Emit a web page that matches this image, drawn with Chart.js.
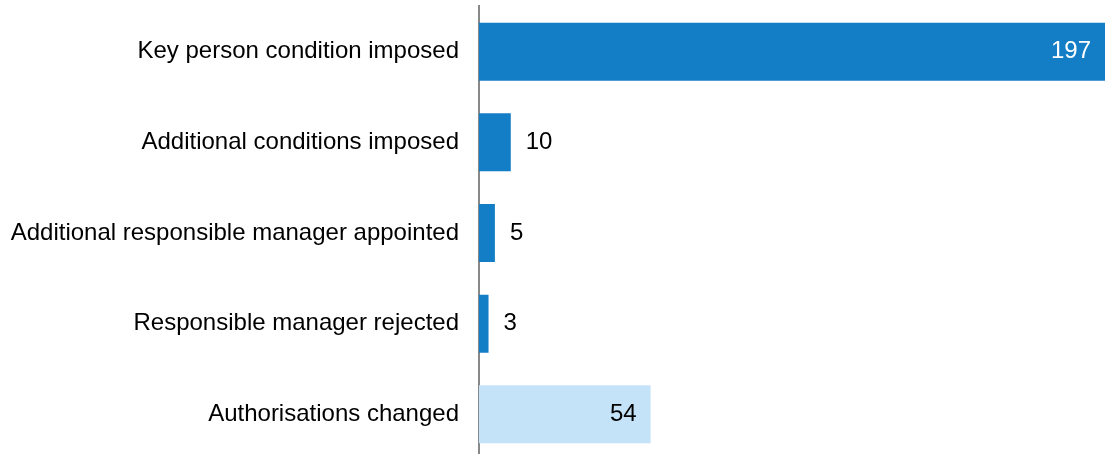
<!DOCTYPE html>
<html>
<head>
<meta charset="utf-8">
<script src="https://cdn.jsdelivr.net/npm/chart.js@4.4.1/dist/chart.umd.min.js"></script>
<style>
  html, body { margin: 0; padding: 0; background: #fff; overflow: hidden; }
  /* taller than the window and nudged up so the plot area runs to the bottom edge */
  #wrap { position: relative; top: -8px; width: 1106px; height: 482px; }
</style>
</head>
<body>
<div id="wrap"><canvas id="chart"></canvas></div>
<script>
const categories = [
    'Key person condition imposed',
    'Additional conditions imposed',
    'Additional responsible manager appointed',
    'Responsible manager rejected',
    'Authorisations changed'
];
const counts = [197, 10, 5, 3, 54];
const barColors = ['#137dc6', '#137dc6', '#137dc6', '#137dc6', '#c5e3f8'];

const FONT = 'Liberation Sans, Arial, sans-serif';

// values drawn at the end of each bar: inside for long bars, outside for short ones
const valueLabels = {
    id: 'valueLabels',
    afterDatasetsDraw(chart) {
        const ctx = chart.ctx;
        const meta = chart.getDatasetMeta(0);
        ctx.save();
        ctx.font = '24px ' + FONT;
        ctx.textBaseline = 'middle';
        meta.data.forEach((bar, i) => {
            const v = counts[i];
            const w = bar.x - bar.base;
            if (w > 100) {
                ctx.textAlign = 'right';
                ctx.fillStyle = i === 0 ? '#ffffff' : '#000000';
                ctx.fillText(v, bar.x - 14, bar.y);
            } else {
                ctx.textAlign = 'left';
                ctx.fillStyle = '#000000';
                ctx.fillText(v, bar.x + 15, bar.y);
            }
        });
        ctx.restore();
    }
};

new Chart(document.getElementById('chart'), {
    type: 'bar',
    data: {
        labels: categories,
        datasets: [{
            data: counts,
            backgroundColor: barColors,
            borderWidth: 0,
            barPercentage: 0.64,
            categoryPercentage: 1
        }]
    },
    options: {
        indexAxis: 'y',
        responsive: true,
        maintainAspectRatio: false,
        animation: false,
        layout: { padding: { top: 5, right: 1, bottom: 0, left: 0 } },
        plugins: {
            legend: { display: false },
            tooltip: { enabled: false }
        },
        scales: {
            x: {
                display: false,
                min: 0,
                max: 197
            },
            y: {
                afterFit(scale) { scale.width = 479; },
                grid: { display: false, drawTicks: true, tickLength: 20 },
                border: { display: true, color: '#888888', width: 2 },
                ticks: {
                    padding: 0,
                    color: '#000000',
                    font: { family: FONT, size: 24 }
                }
            }
        }
    },
    plugins: [valueLabels]
});
</script>
</body>
</html>
